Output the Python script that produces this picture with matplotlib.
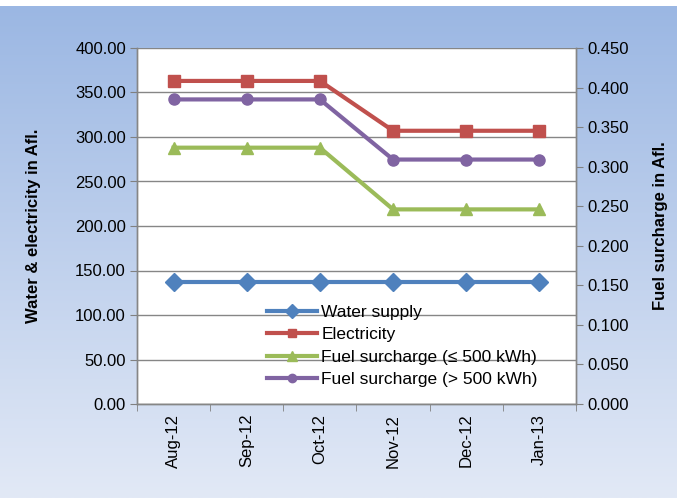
import matplotlib.pyplot as plt
import numpy as np
from matplotlib.colors import LinearSegmentedColormap

plt.rcParams["font.family"] = ["Liberation Sans", "DejaVu Sans"]

months = ["Aug-12", "Sep-12", "Oct-12", "Nov-12", "Dec-12", "Jan-13"]
water_supply = [137.5, 137.5, 137.5, 137.5, 137.5, 137.5]
electricity = [363.0, 363.0, 363.0, 307.0, 307.0, 307.0]
fuel_low = [0.324, 0.324, 0.324, 0.246, 0.246, 0.246]
fuel_high = [0.385, 0.385, 0.385, 0.309, 0.309, 0.309]

fig = plt.figure(figsize=(6.77, 4.98), dpi=100)

# gradient background (white strip at the very top)
bg = fig.add_axes([0, 0, 1, 1 - 6 / 498], zorder=-10)
cmap = LinearSegmentedColormap.from_list("bg", ["#9BB7E3", "#E2E9F6"])
bg.imshow(np.linspace(0, 1, 256).reshape(-1, 1), aspect="auto", cmap=cmap,
          extent=[0, 1, 0, 1], origin="upper")
bg.axis("off")

ax = fig.add_axes([137 / 677, 1 - 404 / 498, 439 / 677, 356 / 498])
ax.set_facecolor("white")
ax2 = ax.twinx()

x = np.arange(len(months))
lw = 3
ax.plot(x, water_supply, color="#4F81BD", lw=lw, marker="D", ms=9, label="Water supply")
ax.plot(x, electricity, color="#C0504D", lw=lw, marker="s", ms=8, label="Electricity")
ax2.plot(x, fuel_low, color="#9BBB59", lw=lw, marker="^", ms=9,
         label="Fuel surcharge (\u2264 500 kWh)")
ax2.plot(x, fuel_high, color="#8064A2", lw=lw, marker="o", ms=8,
         label="Fuel surcharge (> 500 kWh)")

fs = 12
ax.set_xlim(-0.5, len(months) - 0.5)
ax.set_ylim(0, 400)
ax.set_yticks(np.arange(0, 401, 50))
ax.set_yticklabels([f"{v:.2f}" for v in np.arange(0, 401, 50)], fontsize=fs)
ax2.set_ylim(0, 0.45)
ax2.set_yticks(np.arange(0, 0.451, 0.05))
ax2.set_yticklabels([f"{v:.3f}" for v in np.arange(0, 0.451, 0.05)], fontsize=fs)

ax.set_xticks(x)
ax.set_xticklabels(months, rotation=90, fontsize=fs)
ax.set_xticks(np.arange(-0.5, len(months)), minor=True)
ax.tick_params(axis="x", which="major", length=0, pad=7)
ax.tick_params(axis="x", which="minor", length=5, color="#808080")
ax.tick_params(axis="y", length=5, color="#808080", pad=3)
ax2.tick_params(axis="y", length=5, color="#808080", pad=3)

ax.grid(axis="y", color="#868686", lw=1)
ax.set_axisbelow(True)
for a in (ax, ax2):
    for s in a.spines.values():
        s.set_color("#868686")
        s.set_linewidth(1)
ax2.spines["top"].set_visible(False)
ax.spines["top"].set_visible(False)

ax.set_ylabel("Water & electricity in Afl.", fontsize=fs, fontweight="bold")
ax2.set_ylabel("Fuel surcharge in Afl.", fontsize=fs, fontweight="bold")
ax.yaxis.set_label_coords((41 - 137) / 439, 0.5)
ax2.yaxis.set_label_coords((653 - 137) / 439, 0.5)

h1, l1 = ax.get_legend_handles_labels()
h2, l2 = ax2.get_legend_handles_labels()
ax2.legend(h1 + h2, l1 + l2, loc="upper left",
           bbox_to_anchor=(121 / 439, (404 - 296) / 356),
           frameon=False, fontsize=12.5, handlelength=2.9, handletextpad=0.25,
           labelspacing=0.42, borderpad=0, markerscale=0.75)

fig.savefig("out.png", dpi=100)
